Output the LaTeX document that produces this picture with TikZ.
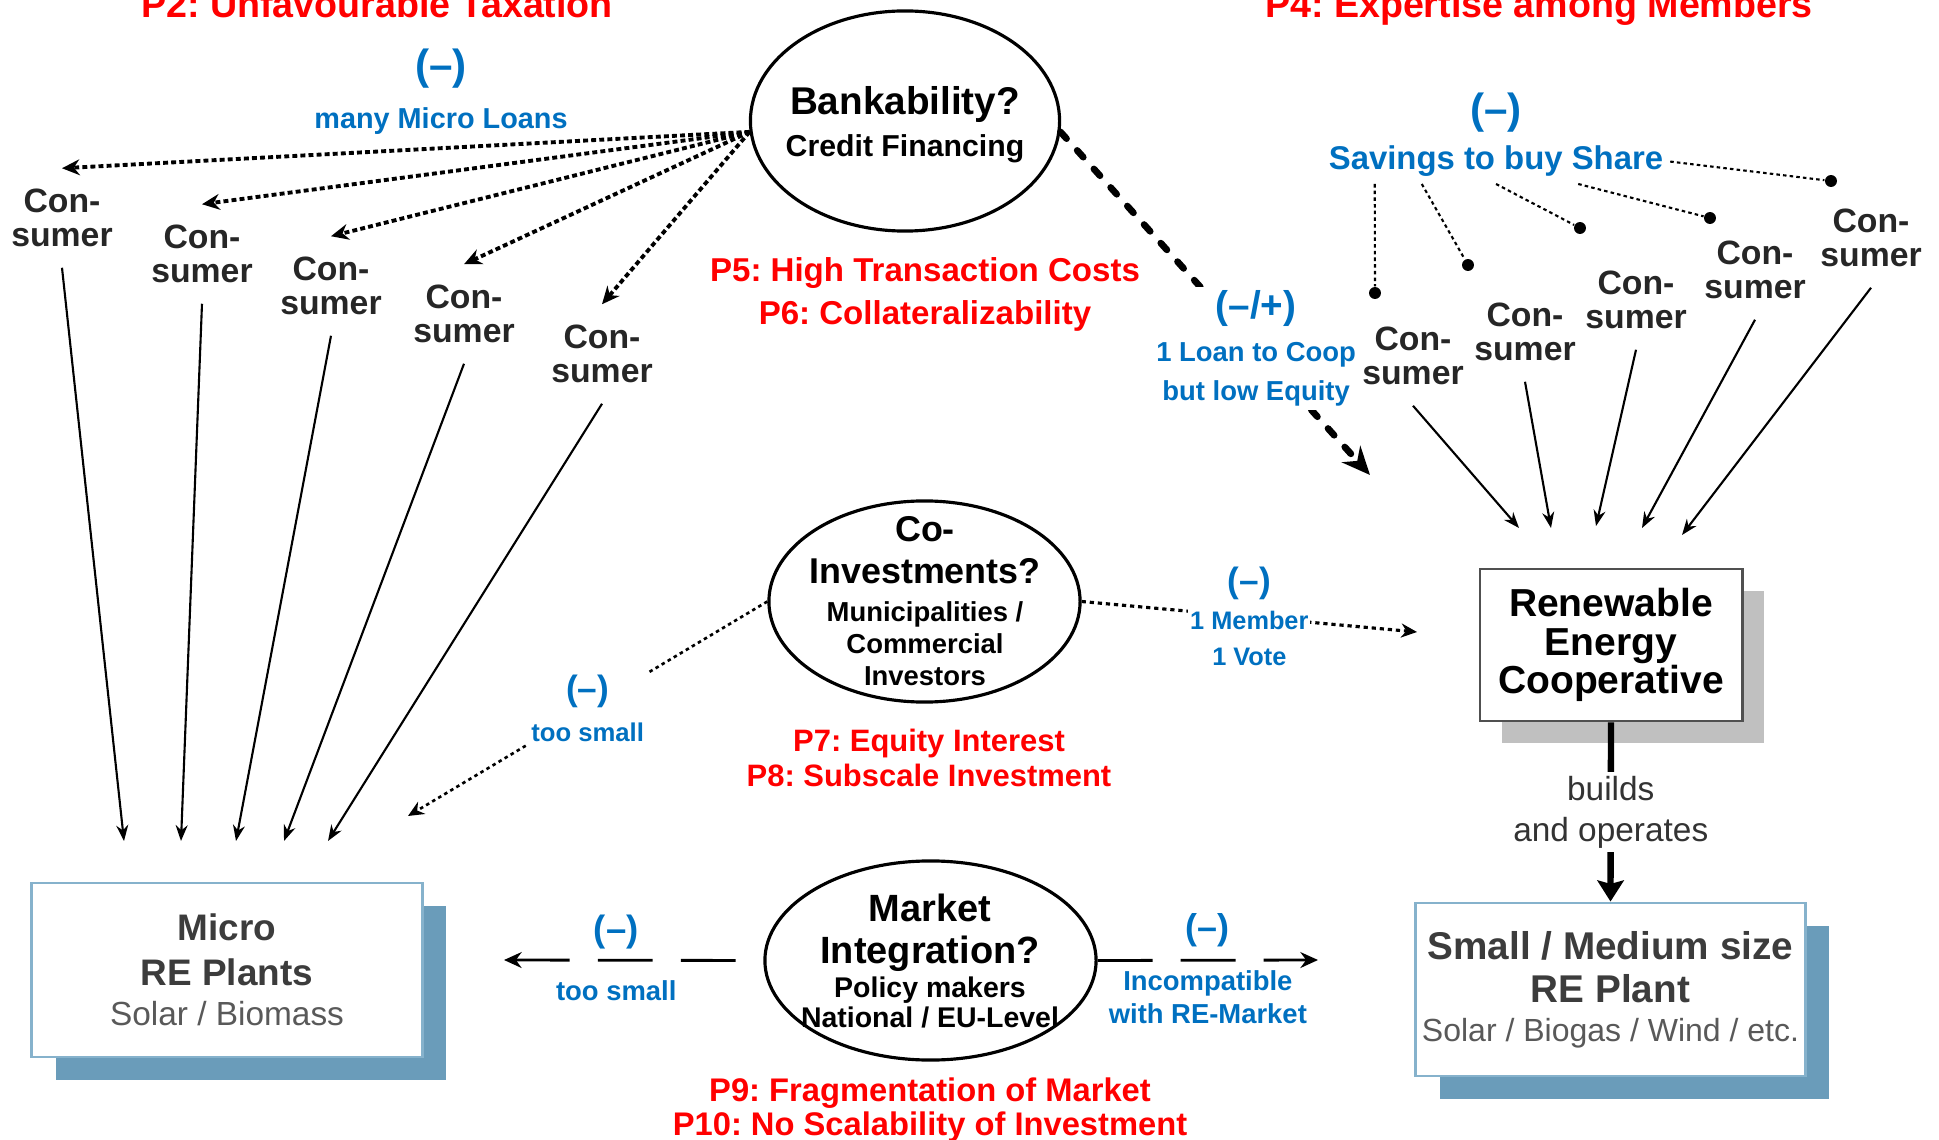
\documentclass[tikz,border=0pt]{standalone}
\usepackage{fontspec}
\setmainfont{Liberation Sans}
\usepackage{tikz}
\usepackage{xcolor}
\usetikzlibrary{arrows.meta,shapes.geometric,shadows,calc}
\definecolor{probred}{HTML}{FF0000}
\definecolor{effblue}{HTML}{0070C0}
\definecolor{plantblue}{HTML}{6A9CBA}
\definecolor{plantedge}{HTML}{86B2CC}
\definecolor{planttext}{HTML}{3C3C3C}
\definecolor{plantsub}{HTML}{595959}
\definecolor{coopgray}{HTML}{C0C0C0}
\definecolor{coopedge}{HTML}{505050}
\newcommand{\fsz}[2]{\fontsize{#1}{#2}\selectfont}
\frenchspacing
\tikzset{
Consumer/.style={
 font=\bfseries\fsz{9.6}{9.5},
 text=black!85,
 align=center,
 inner sep=0pt,
 outer sep=6pt
 },
Issue/.style={
 ellipse,
 draw=black,
 line width=0.9pt,
 inner sep=0pt
 },
IssueTxt/.style={
 anchor=north,
 align=center,
 inner sep=0pt
 },
Problem/.style={
 anchor=north,
 align=center,
 inner sep=0pt,
 text=probred
 },
Sign/.style={
 text=effblue,
 font=\bfseries\fsz{10.2}{12},
 inner sep=0pt
 },
Effect/.style={
 text=effblue,
 font=\bfseries\fsz{7.8}{9.4},
 align=center,
 inner sep=0pt
 },
Plant/.style={
 rectangle,
 draw=plantedge,
 line width=0.8pt,
 fill=white,
 align=center,
 inner sep=1pt,
 minimum width=3.9cm,
 minimum height=1.74cm,
 text=planttext,
 drop shadow={shadow xshift=0.24cm, shadow yshift=-0.23cm, fill=plantblue, opacity=1}
 },
Coop/.style={
 rectangle,
 draw=coopedge,
 line width=0.8pt,
 fill=white,
 align=center,
 inner sep=1pt,
 minimum width=2.62cm,
 minimum height=1.52cm,
 font=\bfseries\fsz{11.1}{11},
 drop shadow={shadow xshift=0.22cm, shadow yshift=-0.22cm, fill=coopgray, opacity=1}
 },
Dot/.style={
 circle,
 fill=black,
 inner sep=0pt,
 minimum size=3.4pt
 },
Loan/.style={
 draw=black,
 line width=1.1pt,
 dash pattern=on 1.4pt off 0.9pt,
 -{Stealth[length=5pt,width=4.5pt]}
 },
Feed/.style={
 draw=black,
 line width=0.6pt,
 -{Stealth[length=4.5pt,width=3.4pt]}
 },
Share/.style={
 draw=black,
 line width=0.6pt,
 dash pattern=on 1pt off 0.9pt
 },
Equity/.style={
 draw=black,
 line width=1.9pt,
 line cap=round,
 dash pattern=on 2.6pt off 4.5pt,
 -{Stealth[length=8pt,width=7pt]}
 },
Invest/.style={
 draw=black,
 line width=0.75pt,
 dash pattern=on 1pt off 1pt,
 -{Stealth[length=4.5pt,width=4pt]}
 },
Vote/.style={
 draw=black,
 line width=0.9pt,
 dash pattern=on 1.2pt off 1.1pt,
 -{Stealth[length=4.5pt,width=4pt]}
 },
Policy/.style={
 draw=black,
 line width=0.8pt,
 dash pattern=on 15.6pt off 8pt,
 >={Stealth[length=5pt,width=4.5pt]}
 },
Build/.style={
 draw=black,
 line width=1.8pt,
 -{Stealth[length=6pt,width=7.5pt,inset=1pt]}
 }
}

\begin{document}
\begin{tikzpicture}[x=0.01cm,y=-0.01cm]
\useasboundingbox (0,0) rectangle (1939,1140);

\node[Problem, anchor=base, font=\bfseries\fsz{10.7}{12}] (p2) at (377,18) {P2: Unfavourable Taxation};
\node[Problem, anchor=base, font=\bfseries\fsz{10.7}{12}] (p4) at (1539,18) {P4: Expertise among Members};

\node[Issue, minimum width=3.09cm, minimum height=2.2cm] (bank) at (905,121) {};
\node[IssueTxt, font=\bfseries\fsz{8.6}{12}] (banktxt) at (905,86) {\fsz{11}{12}Bankability?\\Credit Financing};
\node[Problem, font=\bfseries\fsz{9.4}{12.2}] (p56) at (925,257) {P5: High Transaction Costs\\P6: Collateralizability};

\node[Issue, minimum width=3.11cm, minimum height=2.01cm] (coinv) at (924.5,601.5) {};
\node[IssueTxt, font=\bfseries\fsz{7.8}{9.1}] (coinvtxt) at (925,516) {\fsz{10.2}{9.1}Co-\\[2.85pt]\fsz{10.2}{9.1}Investments?\\[1.6pt]Municipalities /\\Commercial\\Investors};
\node[Problem, font=\bfseries\fsz{8.8}{10.2}] (p78) at (929,728) {P7: Equity Interest\\P8: Subscale Investment};

\node[Issue, minimum width=3.31cm, minimum height=1.99cm] (market) at (930.5,960.5) {};
\node[IssueTxt, font=\bfseries\fsz{8.1}{8.5}] (markettxt) at (930,893) {\fsz{10.8}{8.5}Market\\[3.5pt]\fsz{10.8}{8.5}Integration?\\[1.2pt]Policy makers\\National / EU-Level};
\node[Problem, font=\bfseries\fsz{9.3}{9.6}] (p910) at (930,1077) {P9: Fragmentation of Market\\P10: No Scalability of Investment};

\node[Effect, anchor=north, font=\bfseries\fsz{8.2}{14}] (loans) at (441,48) {\fsz{12}{14}(\textendash)\\many Micro Loans};

\node[Consumer] (c1) at (62,218) {Con-\\sumer};
\node[Consumer] (c2) at (202,254) {Con-\\sumer};
\node[Consumer] (c3) at (331,286) {Con-\\sumer};
\node[Consumer] (c4) at (464,314) {Con-\\sumer};
\node[Consumer] (c5) at (602,354) {Con-\\sumer};

\node[Consumer] (r1) at (1413,356) {Con-\\sumer};
\node[Consumer] (r2) at (1525,332) {Con-\\sumer};
\node[Consumer] (r3) at (1636,300) {Con-\\sumer};
\node[Consumer] (r4) at (1755,270) {Con-\\sumer};
\node[Consumer] (r5) at (1871,238) {Con-\\sumer};

\node[Sign, font=\bfseries\fsz{12}{14}] (savsign) at (1496,113) {(\textendash)};
\node[Effect, anchor=base, outer sep=2pt, font=\bfseries\fsz{9.35}{11}] (sav) at (1496,170) {Savings to buy Share};
\node[Dot] (d1) at (1375,293) {};
\node[Dot] (d2) at (1468,265) {};
\node[Dot] (d3) at (1580,228) {};
\node[Dot] (d4) at (1710,218) {};
\node[Dot] (d5) at (1831,181) {};

\node[Plant, font=\bfseries\fsz{10.5}{11.4}] (micro) at (227,970) {Micro\\[1.4pt]RE Plants\\\mdseries\color{plantsub}\fsz{9.5}{11.4}Solar / Biomass};
\node[Coop] (coop) at (1611,645) {Renewable\\Energy\\Cooperative};
\node[Plant, minimum width=3.89cm, minimum height=1.73cm, font=\bfseries\fsz{11}{11.1}] (small) at (1610.5,989.5) {Small / Medium size\\[1.1pt]RE Plant\\\mdseries\color{plantsub}\fsz{9.1}{11.1}Solar / Biogas / Wind / etc.};

\coordinate (m1) at (124,841);
\coordinate (m2) at (181,841);
\coordinate (m3) at (236,841);
\coordinate (m4) at (284,841);
\coordinate (m5) at (328,841);
\coordinate (k1) at (1519,528);
\coordinate (k2) at (1551,528);
\coordinate (k3) at (1596,526);
\coordinate (k4) at (1642,528);
\coordinate (k5) at (1682,535);
\coordinate (loanend) at (1370,475);
\coordinate (invend) at (408,816);
\coordinate (voteend) at (1417,632);
\coordinate (mktl) at (504,960);
\coordinate (mktr) at (1318,960);

\draw[Loan] (bank.184) -- (c1.north);
\draw[Loan] (bank.184) -- (c2.north);
\draw[Loan] (bank.184) -- (c3.north);
\draw[Loan] (bank.184) -- (c4.north);
\draw[Loan] (bank.184) -- (c5.north);

\draw[Feed] (c1.south) -- (m1);
\draw[Feed] (c2.south) -- (m2);
\draw[Feed] (c3.south) -- (m3);
\draw[Feed] (c4.south) -- (m4);
\draw[Feed] (c5.south) -- (m5);

\draw[Share] ($(sav.south west)!0.152!(sav.south east)$) -- (d1);
\draw[Share] ($(sav.south west)!0.287!(sav.south east)$) -- (d2);
\draw[Share] (sav.south) -- (d3);
\draw[Share] ($(sav.south west)!0.736!(sav.south east)$) -- (d4);
\draw[Share] (sav.east) -- (d5);

\draw[Feed] (r1.south) -- (k1);
\draw[Feed] (r2.south) -- (k2);
\draw[Feed] (r3.south) -- (k3);
\draw[Feed] (r4.south) -- (k4);
\draw[Feed] (r5.south) -- (k5);

\draw[Equity] (bank.356) -- (loanend) node[pos=0.632, Effect, fill=white, inner sep=1pt, font=\bfseries\fsz{7.8}{11.1}] {\fsz{11}{11.1}(\textendash/+)\\[1.1pt]1 Loan to Coop\\but low Equity};

\draw[Invest] (coinv.west) -- (invend) node[midway, Effect, fill=white, inner sep=1pt, font=\bfseries\fsz{7.3}{11.7}] {\fsz{10}{11.7}(\textendash)\\too small};
\draw[Vote] (coinv.east) -- (voteend) node[midway, Effect, fill=white, inner sep=0.5pt, font=\bfseries\fsz{7.2}{10.2}] {\fsz{10}{10.2}(\textendash)\\[0.3pt]1 Member\\1 Vote};

\draw[Policy, <-] (mktl) -- (market.west) node[pos=0.433, above=2.8pt, Sign, font=\bfseries\fsz{10.4}{12}] {(\textendash)} node[pos=0.433, below=5.4pt, Effect] {too small};
\draw[Policy, ->] (market.east) -- (mktr) node[midway, above=3.4pt, Sign] {(\textendash)} node[midway, below=2.6pt, Effect] {Incompatible\\with RE-Market};

\draw[Build] (coop.south) -- (small.north) node[midway, fill=white, inner sep=1pt, align=center, text=black!80, font=\fsz{9.5}{11.7}] {builds\\and operates};
\end{tikzpicture}
\end{document}
